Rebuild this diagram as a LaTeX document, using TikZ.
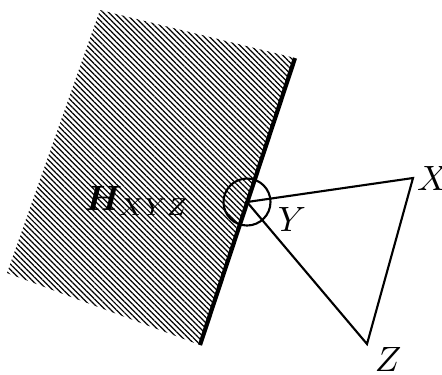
\documentclass[tikz,border=0pt]{standalone}
\usepackage{bm}
\usetikzlibrary{patterns.meta}
\tikzset{
  plane/.style={pattern={Lines[angle=-45,distance=1.1pt,line width=0.35pt]}},
  rim/.style={line width=1.2pt},
  edge/.style={semithick, line join=miter},
  ring/.style={circle, draw, semithick, inner sep=0pt, minimum size=4.7mm},
  vlabel/.style={inner sep=1pt},
}
\begin{document}
\begin{tikzpicture}[x=0.1mm, y=-0.1mm]
  \useasboundingbox (0,0) rectangle (442,374);
  % hatched half-plane and its edge
  \coordinate (pa) at (100,10);
  \coordinate (pb) at (295,58);
  \coordinate (pc) at (200,345);
  \coordinate (pd) at (7,273);
  \fill[plane] (pa) -- (pb) -- (pc) -- (pd) -- cycle;
  \draw[rim] (pb) -- (pc);
  \node (hxyz) at (137,201) {$\bm{H}_{XYZ}$};

  % triangle with vertex Y on the edge
  \coordinate (Y) at (247,202);
  \coordinate (X) at (413,178);
  \coordinate (Z) at (367,344);
  \node[ring] (yring) at (Y) {};
  \draw[edge] (Y) -- (X) -- (Z) -- cycle;
  \node[vlabel, anchor=west] (xl) at (X) {$X$};
  \node[vlabel] (yl) at (292,219) {$Y$};
  \node[vlabel] (zl) at (388,359) {$Z$};
\end{tikzpicture}
\end{document}
